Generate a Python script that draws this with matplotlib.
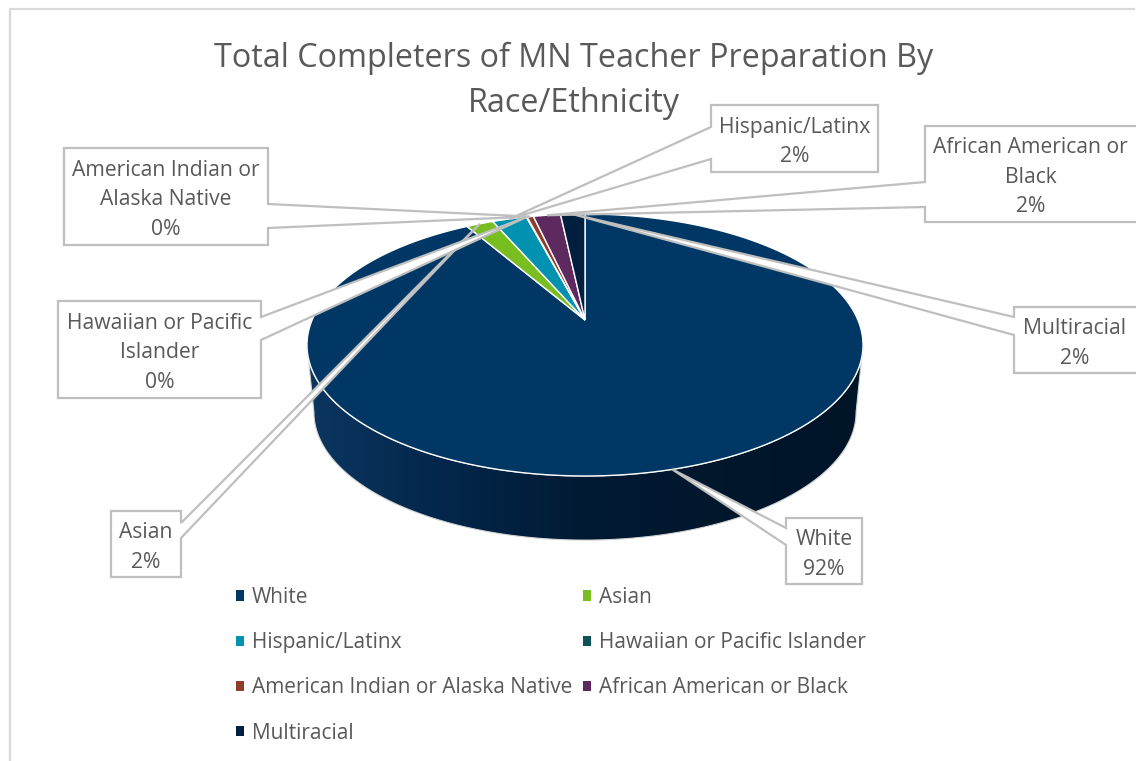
import numpy as np
import matplotlib
matplotlib.use('Agg')
import matplotlib.pyplot as plt
from matplotlib.colors import LinearSegmentedColormap
from matplotlib.patches import Patch, Polygon, Rectangle

plt.rcParams['font.family'] = ['Open Sans', 'DejaVu Sans']

TEXT = '#595959'
BORDER = '#bfbfbf'

# clockwise from 12 o'clock, shares in percent
categories = ['White', 'Asian', 'Hispanic/Latinx', 'Hawaiian or Pacific Islander',
              'American Indian or Alaska Native', 'African American or Black', 'Multiracial']
values = [91.6, 1.9, 2.4, 0.05, 0.45, 1.9, 1.7]
colors = ['#003764', '#78be20', '#0092b0', '#0d5257', '#8d3f2b', '#5d295f', '#001f3e']

title_lines = ['Total Completers of MN Teacher Preparation By', 'Race/Ethnicity']
label_lines = [['White'], ['Asian'], ['Hispanic/Latinx'], ['Hawaiian or Pacific', 'Islander'],
               ['American Indian or', 'Alaska Native'], ['African American or', 'Black'], ['Multiracial']]
label_boxes = [(786, 518, 862, 584), (111, 511, 181, 577), (711, 105, 878, 172), (58, 301, 261, 398),
               (64, 148, 268, 245), (925, 126, 1138, 222), (1014, 307, 1138, 373)]
# where the leader leaves the box
leader_feet = [((786, 528), (786, 545)), ((181, 523), (181, 538)), ((711, 127), (711, 159)),
               ((261, 317), (261, 340)), ((268, 204), (268, 228)), ((925, 182), (925, 207)),
               ((1014, 317), (1014, 335))]
legend_order = [0, 2, 4, 6, 1, 3, 5]

side_stops = ['#0b3660', '#03264a', '#001a33', '#00172c', '#001428']

# pie is seen in perspective, apex sits above the middle of the rim
APEX_X, APEX_Y = 585, 320
RX, RY, PERSP = 272.9, 126.2, 0.191
DEPTH, BASE_SCALE = 68, 0.975


def rim(pct):
    """Screen position on the pie rim, pct is percent clockwise from the top."""
    t = np.radians(np.asarray(pct, dtype=float) * 3.6)
    u, v = np.sin(t), np.cos(t)
    w = 1 + PERSP * v
    return APEX_X + RX * u / w, APEX_Y - RY * v / w


fig = plt.figure(figsize=(11.36, 7.61), dpi=100)
ax = fig.add_axes([0, 0, 1, 1])
ax.set_xlim(0, 1136)
ax.set_ylim(761, 0)
ax.axis('off')

ax.plot([10, 10, 1134], [761, 8.5, 8.5], color='#d9d9d9', lw=1.6, zorder=1)

# side of the pie with the horizontal shading
x_all, y_all = rim(np.linspace(0, 100, 721))
left, right = np.argmin(x_all), np.argmax(x_all)
xb = APEX_X + BASE_SCALE * (x_all - APEX_X)
yb = APEX_Y + BASE_SCALE * (y_all - APEX_Y) + DEPTH
front = np.arange(right, left + 1)
side_x = np.concatenate([x_all[front], xb[front][::-1]])
side_y = np.concatenate([y_all[front], yb[front][::-1]])
side = Polygon(np.column_stack([side_x, side_y]), closed=True, transform=ax.transData,
               facecolor='none', edgecolor='#d4d4d4', lw=0.8, zorder=2.1)
ax.add_patch(side)
cmap = LinearSegmentedColormap.from_list('side', side_stops)
img = ax.imshow(np.linspace(0, 1, 256)[None, :], cmap=cmap, aspect='auto',
                extent=(x_all.min(), x_all.max(), yb.max(), y_all[front].min()), zorder=2)
img.set_clip_path(side)
ax.set_xlim(0, 1136)
ax.set_ylim(761, 0)

# top face
edges = np.concatenate([[0], np.cumsum(values)])
edges = edges / edges[-1] * 100
shares = np.diff(edges)
for start, end, col in zip(edges[:-1], edges[1:], colors):
    xs, ys = rim(np.linspace(start, end, max(int((end - start) * 8), 3)))
    ax.add_patch(Polygon(np.column_stack([np.r_[APEX_X, xs], np.r_[APEX_Y, ys]]), closed=True,
                         facecolor=col, edgecolor='white', lw=1.0, joinstyle='miter', zorder=3))

# callouts
for i, name in enumerate(categories):
    x0, y0, x1, y1 = label_boxes[i]
    tip = rim((edges[i] + edges[i + 1]) / 2)
    a, b = leader_feet[i]
    if a[0] == x0:
        pts = [(x0, y0), a, tip, b, (x0, y1), (x1, y1), (x1, y0)]
    else:
        pts = [(x0, y0), (x1, y0), a, tip, b, (x1, y1), (x0, y1)]
    ax.add_patch(Polygon(pts, closed=True, facecolor='white', edgecolor=BORDER, lw=1.6,
                         joinstyle='miter', zorder=4 + i * 0.01))
    lines = label_lines[i] + [f'{round(shares[i])}%']
    cx = (x0 + min(x1, 1136)) / 2
    first = (y0 + y1) / 2 - (len(lines) - 1) * 29.5 / 2 + 0.8
    for j, line in enumerate(lines):
        ax.text(cx, first + j * 29.5, line, color=TEXT, fontsize=15.2, ha='center',
                va='center_baseline', zorder=5)

# title
for j, line in enumerate(title_lines):
    ax.text(573.5, 54 + j * 45, line, color=TEXT, fontsize=23.3, ha='center',
            va='center_baseline', zorder=3.5)

# legend
handles = [Patch(facecolor=colors[i], edgecolor='none') for i in legend_order]
names = [categories[i] for i in legend_order]
ax.legend(handles, names, ncol=2, frameon=False, fontsize=15.05, labelcolor=TEXT,
          loc='upper left', bbox_to_anchor=(236 / 1136, 1 - 587 / 761), borderpad=0,
          borderaxespad=0, handlelength=0.38, handleheight=0.38, handletextpad=0.38,
          columnspacing=0.5, labelspacing=1.16, alignment='left')

fig.savefig('out.png', dpi=100)
